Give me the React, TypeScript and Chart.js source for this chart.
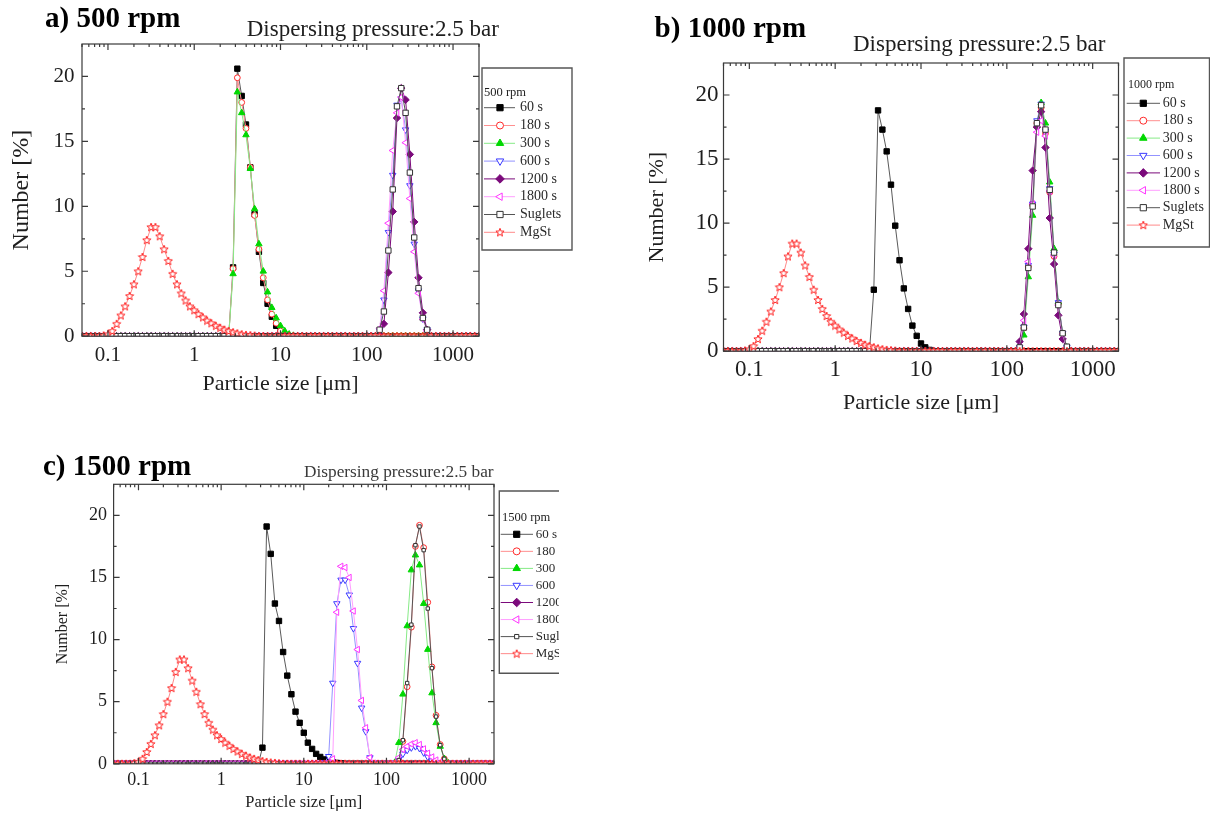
import React, { useEffect, useRef } from 'react';
import { Chart, registerables } from 'chart.js';
import { drawPoint } from 'chart.js/helpers';

Chart.register(...registerables);

const SERIF = '"Liberation Serif", "Times New Roman", Times, serif';
Chart.defaults.font.family = SERIF;

// Measurement grid (particle size classes, µm)
const SIZES = [
  0.0501, 0.0562, 0.0631, 0.0708, 0.0794, 0.0891,
  0.1, 0.112, 0.126, 0.141, 0.158, 0.178, 0.2, 0.224, 0.251, 0.282, 0.316, 0.355, 0.398, 0.447, 0.501, 0.562, 0.631, 0.708, 0.794, 0.891,
  1, 1.12, 1.26, 1.41, 1.58, 1.78, 2, 2.24, 2.51, 2.82, 3.16, 3.55, 3.98, 4.47, 5.01, 5.62, 6.31, 7.08, 7.94, 8.91,
  10, 11.2, 12.6, 14.1, 15.8, 17.8, 20, 22.4, 25.1, 28.2, 31.6, 35.5, 39.8, 44.7, 50.1, 56.2, 63.1, 70.8, 79.4, 89.1,
  100, 112, 126, 141, 158, 178, 200, 224, 251, 282, 316, 355, 398, 447, 501, 562, 631, 708, 794, 891,
  1000, 1120, 1260, 1410, 1580, 1780, 1995,
];

type Seg = [number, number[]];

// MgSt (same in every panel)
const MGST: Seg[] = [[0.0891, [0.05, 0.15, 0.4, 0.95, 1.6, 2.3, 3.1, 4.0, 5.0, 6.1, 7.4, 8.4, 8.4, 7.7, 6.7, 5.8, 4.8, 4.0, 3.3, 2.75, 2.3, 2.0, 1.7, 1.45, 1.2, 1.0, 0.8, 0.65, 0.5, 0.4, 0.3, 0.22, 0.15, 0.1, 0.07, 0.04]]];

// a) 500 rpm
const A_60S: Seg[] = [[2.82, [5.3, 20.6, 18.5, 16.3, 13.0, 9.4, 6.5, 4.1, 2.5, 1.5, 0.8, 0.3, 0.1]]];
const A_180S: Seg[] = [[2.82, [5.2, 19.9, 18.0, 16.0, 13.0, 9.3, 6.7, 4.5, 2.8, 1.7, 1.0, 0.4, 0.15, 0.05]]];
const A_300S: Seg[] = [[2.82, [4.8, 18.8, 17.2, 15.5, 12.9, 9.8, 7.1, 5.0, 3.4, 2.2, 1.4, 0.8, 0.4, 0.15, 0.05]]];
const A_600S: Seg[] = [[141, [0.44, 2.8, 8.0, 12.4, 17.8, 18.3, 15.9, 11.6, 7.1, 3.5, 1.34, 0.5]]];
const A_1200S: Seg[] = [[141, [0.1, 0.95, 4.9, 9.6, 16.8, 19.1, 18.2, 14.0, 8.8, 4.5, 1.8, 0.5]]];
const A_1800S: Seg[] = [[141, [0.6, 3.5, 8.7, 14.3, 17.2, 18.4, 14.9, 10.6, 6.5, 3.3, 1.3, 0.4]]];
const A_SUGLETS: Seg[] = [[141, [0.5, 1.9, 6.6, 11.3, 17.7, 19.1, 17.2, 12.6, 7.6, 3.7, 1.4, 0.5]]];

// b) 1000 rpm
const B_60S: Seg[] = [[2.82, [4.8, 18.8, 17.3, 15.6, 13.0, 9.8, 7.1, 4.9, 3.3, 2.0, 1.2, 0.6, 0.3, 0.1]]];
const B_180S: Seg[] = [[141, [0.3, 1.8, 6.6, 11.4, 17.8, 19.0, 17.0, 12.4, 7.4, 3.7, 1.4, 0.3]]];
const B_300S: Seg[] = [[141, [0.2, 1.25, 5.8, 10.6, 17.6, 19.4, 17.8, 13.2, 8.0, 3.85, 1.4, 0.3]]];
const B_600S: Seg[] = [[141, [0.3, 1.9, 6.7, 11.5, 18.0, 19.3, 17.2, 12.7, 7.6, 3.8, 1.4, 0.3]]];
const B_1200S: Seg[] = [[141, [0.75, 2.9, 8.0, 14.1, 17.5, 18.7, 15.9, 10.4, 6.8, 2.8, 0.95, 0.1]]];
const B_1800S: Seg[] = [[141, [0.3, 2.4, 7.0, 11.5, 17.1, 18.0, 16.8, 12.5, 7.5, 3.6, 1.3, 0.3]]];
const B_SUGLETS: Seg[] = [[141, [0.3, 1.85, 6.5, 11.3, 17.8, 19.2, 17.3, 12.6, 7.7, 3.6, 1.4, 0.35]]];

// c) 1500 rpm
const C_60S: Seg[] = [[3.16, [1.3, 19.1, 16.9, 12.9, 11.5, 9.0, 7.1, 5.6, 4.2, 3.3, 2.5, 1.7, 1.2, 0.8, 0.55, 0.35, 0.2, 0.12, 0.07, 0.04]]];
const C_180S: Seg[] = [[141, [0.3, 1.8, 6.2, 11.0, 17.5, 19.2, 17.4, 13.0, 7.8, 3.9, 1.55, 0.4]]];
const C_300S: Seg[] = [[126, [0.1, 1.7, 5.6, 11.1, 15.6, 16.8, 16.0, 12.9, 9.2, 5.7, 3.3, 1.4, 0.4, 0.05]]];
const C_600S: Seg[] = [
  [17.8, [0.1, 0.6, 6.5, 12.9, 14.8, 14.8, 13.6, 10.9, 8.1, 4.5, 2.6, 0.5, 0.05]],
  [141, [0.35, 0.8, 1.1, 1.3, 1.4, 1.25, 0.9, 0.55, 0.25, 0.1]],
];
const C_1200S: Seg[] = [];
const C_1800S: Seg[] = [
  [20, [0.1, 0.4, 12.2, 15.9, 15.8, 15.0, 12.3, 9.2, 5.1, 2.9, 0.5, 0.05]],
  [126, [0.1, 0.5, 1.15, 1.4, 1.6, 1.7, 1.55, 1.2, 0.85, 0.55, 0.3, 0.12]],
];
const C_SUGLETS: Seg[] = [[141, [0.3, 1.9, 6.5, 11.2, 17.6, 19.1, 17.2, 12.5, 7.7, 3.8, 1.5, 0.4]]];

const SERIES_LABELS = ['60 s', '180 s', '300 s', '600 s', '1200 s', '1800 s', 'Suglets', 'MgSt'];
const X_TICKS = [0.1, 1, 10, 100, 1000];
const Y_TICKS = [0, 5, 10, 15, 20];
const X_MIN = 0.05;
const X_MAX = 2000;
const Y_MIN = 0;
const Y_MAX = 22.5;

const PANEL_A_SERIES = [A_60S, A_180S, A_300S, A_600S, A_1200S, A_1800S, A_SUGLETS, MGST];
const PANEL_B_SERIES = [B_60S, B_180S, B_300S, B_600S, B_1200S, B_1800S, B_SUGLETS, MGST];
const PANEL_C_SERIES = [C_60S, C_180S, C_300S, C_600S, C_1200S, C_1800S, C_SUGLETS, MGST];

// ---------- styles ----------
const MARKERS = [
  { style: 'rect', rot: 0, r: 3.8, border: '#000000', fill: '#000000', line: '#5a5a5a' },
  { style: 'circle', rot: 0, r: 2.9, border: '#ff2a2a', fill: '#ffffff', line: '#ff8f8f' },
  { style: 'triangle', rot: 0, r: 3.7, border: '#00d800', fill: '#00d800', line: '#86ea86' },
  { style: 'triangle', rot: 180, r: 3.7, border: '#3a3aff', fill: '#ffffff', line: '#9393ff' },
  { style: 'rectRot', rot: 0, r: 3.7, border: '#7b0a7b', fill: '#7b0a7b', line: '#7b0a7b' },
  { style: 'triangle', rot: -90, r: 3.7, border: '#ff35ff', fill: '#ffffff', line: '#ff9eff' },
  { style: 'rect', rot: 0, r: 3.8, border: '#333333', fill: '#ffffff', line: '#555555' },
  { style: 'star', rot: 0, r: 4, border: '#ff2020', fill: '#ffffff', line: '#ff8a8a' },
];

function makeStar(color: string) {
  const c = document.createElement('canvas');
  c.width = 10; c.height = 10;
  const g = c.getContext('2d')!;
  const cx = 5, cy = 5.3, R = 4.3, r = 1.8;
  g.beginPath();
  for (let k = 0; k < 10; k++) {
    const ang = -Math.PI / 2 + (k * Math.PI) / 5;
    const rad = k % 2 === 0 ? R : r;
    const px = cx + rad * Math.cos(ang), py = cy + rad * Math.sin(ang);
    if (k === 0) g.moveTo(px, py); else g.lineTo(px, py);
  }
  g.closePath();
  g.fillStyle = '#fff'; g.fill();
  g.strokeStyle = color; g.lineWidth = 1; g.stroke();
  return c;
}

function expand(segs: Seg[]) {
  const ys = SIZES.map(() => 0);
  for (const [start, vals] of segs) {
    const i0 = SIZES.indexOf(start);
    vals.forEach((v, k) => { ys[i0 + k] = v; });
  }
  return SIZES.map((x, i) => ({ x, y: ys[i] }));
}

const PANELS = [
  {
    id: 'a', series: PANEL_A_SERIES, rpm: '500 rpm',
    canvas: { left: 0, top: 0, w: 620, h: 420 },
    pad: { top: 44, right: 141, bottom: 22.6, left: 0 },
    yAxisW: 82, xAxisH: 61.2, tickFont: 21, xTickPad: 6.2, yTickPad: 7.5,
    xTitleFont: 22, yTitleFont: 24, yTitlePad: 7.3, sugR: 3.8,
    legend: { x: 482, y: 68, w: 90, h: 182, titleX: 484, titleY: 92.3, titleSize: 12.5, row0: 107.7, rowGap: 17.8, lineX0: 484, lineX1: 515, markerX: 500, labelX: 520, labelSize: 14 },
  },
  {
    id: 'b', series: PANEL_B_SERIES, rpm: '1000 rpm',
    canvas: { left: 620, top: 0, w: 590, h: 430 },
    pad: { top: 63, right: 91.5, bottom: 13.6, left: 0 },
    yAxisW: 103.5, xAxisH: 65.2, tickFont: 23, xTickPad: 5.0, yTickPad: 4.9,
    xTitleFont: 22, yTitleFont: 22, yTitlePad: 24.4, sugR: 3.8,
    legend: { x: 504, y: 58, w: 85.5, h: 189, titleX: 508, titleY: 85, titleSize: 12, row0: 103.3, rowGap: 17.4, lineX0: 506.7, lineX1: 540, markerX: 523.3, labelX: 542.7, labelSize: 14 },
  },
  {
    id: 'c', series: PANEL_C_SERIES, rpm: '1500 rpm',
    canvas: { left: 0, top: 430, w: 559, h: 384 },
    pad: { top: 54.3, right: 65, bottom: 1.5, left: 0 },
    yAxisW: 113.6, xAxisH: 48.7, tickFont: 18, xTickPad: 5.4, yTickPad: 6.6,
    xTitleFont: 16.5, yTitleFont: 16, yTitlePad: 52.9, sugR: 2.4,
    legend: { x: 499.3, y: 61, w: 120, h: 182.3, titleX: 502, titleY: 87.7, titleSize: 12.5, row0: 104.3, rowGap: 17.05, lineX0: 500.7, lineX1: 533, markerX: 516.7, labelX: 535.7, labelSize: 13 },
  },
];

const TEXTS = [
  { text: 'a) 500 rpm', left: 45, top: 3, size: 29, bold: true, color: '#000' },
  { text: 'Dispersing pressure:2.5 bar', left: 246.7, top: 16.7, size: 23, bold: false, color: '#1e1e1e' },
  { text: 'b) 1000 rpm', left: 654.6, top: 13, size: 29, bold: true, color: '#000' },
  { text: 'Dispersing pressure:2.5 bar', left: 853, top: 32.4, size: 23, bold: false, color: '#1e1e1e' },
  { text: 'c) 1500 rpm', left: 43, top: 450.7, size: 29, bold: true, color: '#000' },
  { text: 'Dispersing pressure:2.5 bar', left: 304, top: 462.8, size: 17.3, bold: false, color: '#3a3a3a' },
];

const framePlugin = {
  id: 'frame',
  afterDraw(chart: any) {
    const { ctx, chartArea: a, scales } = chart;
    const xs = scales.x, ys = scales.y;
    ctx.save();
    ctx.strokeStyle = '#3a3a3a';
    ctx.lineWidth = 1.2;
    ctx.strokeRect(a.left, a.top, a.right - a.left, a.bottom - a.top);
    ctx.beginPath();
    const decades = [0.01, 0.1, 1, 10, 100, 1000];
    for (const d of decades) {
      for (let k = 1; k <= 9; k++) {
        const v = k * d;
        if (v < X_MIN || v > X_MAX) continue;
        const len = k === 1 ? 6 : 3;
        const px = xs.getPixelForValue(v);
        ctx.moveTo(px, a.bottom); ctx.lineTo(px, a.bottom - len);
        ctx.moveTo(px, a.top); ctx.lineTo(px, a.top + len);
      }
    }
    for (let v = 0; v < Y_MAX; v += 2.5) {
      const len = v % 5 === 0 ? 6 : 3;
      const py = ys.getPixelForValue(v);
      ctx.moveTo(a.left, py); ctx.lineTo(a.left + len, py);
      ctx.moveTo(a.right, py); ctx.lineTo(a.right - len, py);
    }
    ctx.stroke();
    ctx.restore();
  },
};

function legendPlugin(L: any, rpm: string) {
  return {
    id: 'boxLegend',
    afterDraw(chart: any) {
      const ctx = chart.ctx;
      ctx.save();
      ctx.fillStyle = '#fff';
      ctx.strokeStyle = '#555';
      ctx.lineWidth = 1.4;
      ctx.beginPath();
      ctx.rect(L.x, L.y, L.w, L.h);
      ctx.fill();
      ctx.stroke();
      ctx.textBaseline = 'middle';
      ctx.textAlign = 'left';
      ctx.fillStyle = '#1e1e1e';
      ctx.font = `${L.titleSize}px ${SERIF}`;
      ctx.fillText(rpm, L.titleX, L.titleY);
      chart.data.datasets.forEach((ds: any, i: number) => {
        const y = L.row0 + i * L.rowGap;
        ctx.strokeStyle = ds.borderColor;
        ctx.lineWidth = 1;
        ctx.beginPath();
        ctx.moveTo(L.lineX0, y);
        ctx.lineTo(L.lineX1, y);
        ctx.stroke();
        ctx.fillStyle = ds.pointBackgroundColor;
        ctx.strokeStyle = ds.pointBorderColor;
        ctx.lineWidth = 1;
        drawPoint(ctx, { pointStyle: ds.pointStyle, rotation: ds.pointRotation, radius: ds.pointRadius + 0.6, borderWidth: 1 }, L.markerX, y);
        ctx.fillStyle = '#2a2a2a';
        ctx.font = `${L.labelSize}px ${SERIF}`;
        ctx.fillText(ds.label, L.labelX, y);
      });
      ctx.restore();
    },
  };
}

function buildConfig(P: any) {
  const star = makeStar(MARKERS[7].border);
  const n = P.series.length;
  const datasets = P.series.map((segs: Seg[], i: number) => {
    const m = MARKERS[i];
    const r = i === 6 ? P.sugR : m.r;
    return {
      label: SERIES_LABELS[i],
      data: expand(segs),
      showLine: true,
      borderColor: m.line,
      borderWidth: 1,
      pointStyle: m.style === 'star' ? star : m.style,
      pointRotation: m.rot,
      pointRadius: r,
      pointHoverRadius: r,
      pointBorderColor: m.border,
      pointBackgroundColor: m.fill,
      pointBorderWidth: 1,
      tension: 0,
      fill: false,
      order: n - i,
    };
  });
  const tickColor = '#1e1e1e';
  return {
    type: 'line',
    data: { datasets },
    options: {
      responsive: false,
      animation: false,
      events: [],
      devicePixelRatio: 1,
      layout: { padding: P.pad },
      plugins: { legend: { display: false }, tooltip: { enabled: false }, title: { display: false } },
      scales: {
        x: {
          type: 'logarithmic',
          min: X_MIN,
          max: X_MAX,
          afterBuildTicks: (s: any) => { s.ticks = X_TICKS.map((v) => ({ value: v })); },
          afterFit: (s: any) => { s.height = P.xAxisH; },
          ticks: {
            callback: (v: any) => String(v),
            autoSkip: false, maxRotation: 0, minRotation: 0,
            font: { size: P.tickFont }, color: tickColor, padding: P.xTickPad,
          },
          grid: { display: false, drawTicks: false },
          border: { display: false },
          title: {
            display: true, text: 'Particle size [μm]', color: tickColor,
            font: { size: P.xTitleFont }, padding: { top: 0, bottom: 0 },
          },
        },
        y: {
          type: 'linear',
          min: Y_MIN,
          max: Y_MAX,
          afterBuildTicks: (s: any) => { s.ticks = Y_TICKS.map((v) => ({ value: v })); },
          afterFit: (s: any) => { s.width = P.yAxisW; },
          ticks: { font: { size: P.tickFont }, color: tickColor, padding: P.yTickPad },
          grid: { display: false, drawTicks: false },
          border: { display: false },
          title: {
            display: true, text: 'Number [%]', color: tickColor,
            font: { size: P.yTitleFont }, padding: { top: P.yTitlePad, bottom: 0 },
          },
        },
      },
    },
    plugins: [framePlugin, legendPlugin(P.legend, P.rpm)],
  };
}

function Panel({ P }: { P: any }) {
  const ref = useRef<HTMLCanvasElement>(null);
  useEffect(() => {
    const chart = new Chart(ref.current as HTMLCanvasElement, buildConfig(P) as any);
    return () => chart.destroy();
  }, [P]);
  return (
    <canvas
      ref={ref}
      width={P.canvas.w}
      height={P.canvas.h}
      style={{ position: 'absolute', left: P.canvas.left, top: P.canvas.top, width: P.canvas.w, height: P.canvas.h }}
    />
  );
}

export default function App() {
  return (
    <div style={{ position: 'absolute', left: 0, top: 0, width: 1210, height: 814, overflow: 'hidden', background: '#fff' }}>
      {PANELS.map((P) => <Panel key={P.id} P={P} />)}
      {TEXTS.map((t, i) => (
        <div
          key={i}
          style={{
            position: 'absolute', left: t.left, top: t.top, fontFamily: SERIF, fontSize: t.size,
            fontWeight: t.bold ? 700 : 400, lineHeight: 1, whiteSpace: 'nowrap', color: t.color,
          }}
        >
          {t.text}
        </div>
      ))}
    </div>
  );
}
